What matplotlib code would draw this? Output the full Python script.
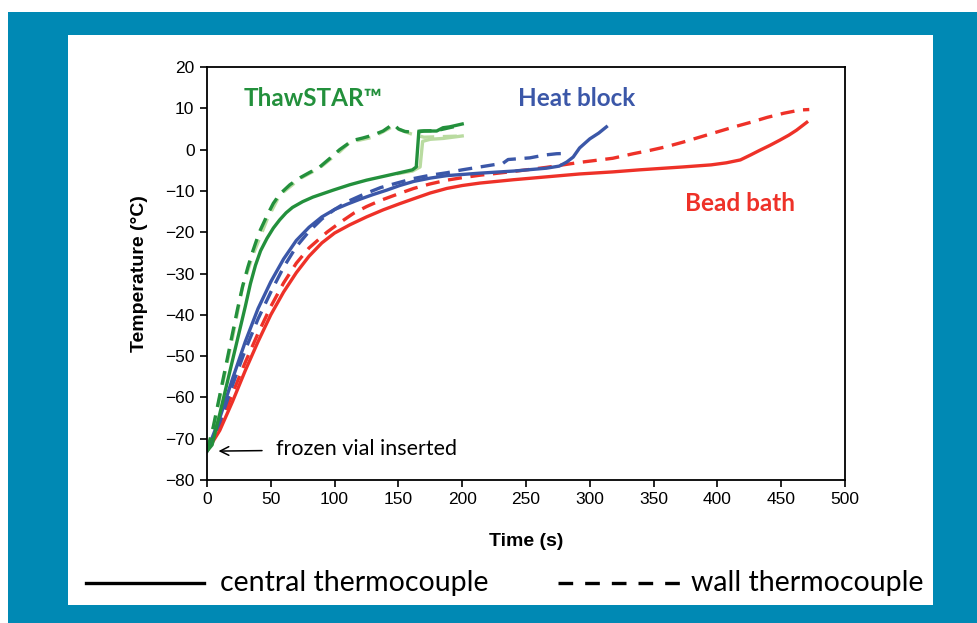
import matplotlib
matplotlib.use("Agg")
import matplotlib.pyplot as plt
from matplotlib.patches import Rectangle
from matplotlib.lines import Line2D

# -----------------------------
# Data
# -----------------------------
# ThawSTAR - central (dark green)
thaw_c_t = [0, 4, 10, 15, 20, 25, 30, 34, 38, 42, 47, 52, 57, 62, 67, 75, 83, 99, 112, 125, 138, 151, 161, 164,
            166, 170, 180, 185, 190, 200]
thaw_c_T = [-73, -71.5, -64, -57.5, -51, -44.5, -38, -32.5, -28, -24.5, -21.5, -19, -17, -15.3, -14, -12.6, -11.5,
            -9.8, -8.5, -7.4, -6.5, -5.6, -4.9, -4.2, 4.3, 4.5, 4.5, 5.3, 5.5, 6.2]
# ThawSTAR - wall (dark green)
thaw_w_t = [0, 5, 10, 15, 20, 24, 28, 32, 36, 41, 47, 52, 57, 65, 73, 80, 88, 96, 104, 114, 122, 130, 138, 146,
            150, 155, 161, 167, 180, 190, 200]
thaw_w_T = [-73, -67, -59.5, -52, -44.5, -38.5, -33, -28.5, -24.5, -20, -16, -13, -10.8, -8.5, -6.8, -5.6, -4.3,
            -2.2, 0, 2.2, 2.8, 3.5, 4.5, 6.2, 5.0, 4.4, 4.2, 4.5, 4.6, 5.3, 6]
# ThawSTAR replicate (light green)
thaw2_c_t = [150, 161, 167, 169, 175, 185, 200]
thaw2_c_T = [-5.8, -5.2, -4.2, 2.0, 2.5, 2.7, 3.3]
thaw2_w_t = [0, 5, 10, 20, 28, 36, 47, 57, 73, 88, 104, 112, 130, 145, 160, 170, 200]
thaw2_w_T = [-73, -67.5, -60, -45.5, -33, -25.5, -17, -11, -7, -4.5, -0.5, 1.8, 3, 5.5, 3.8, 3, 3.3]

# Heat block
heat_c_t = [0, 10, 20, 30, 40, 50, 60, 70, 80, 90, 100, 110, 120, 130, 141, 151, 162, 175, 188, 214, 240, 266,
            276, 282, 287, 292, 300, 307, 313]
heat_c_T = [-73, -65, -55.5, -46.5, -38.5, -32, -26.5, -22, -18.8, -16.3, -14.5, -13.2, -12, -10.9, -9.8, -8.7,
            -7.7, -6.9, -6.3, -5.7, -5.2, -4.5, -4, -3, -1.8, 0.4, 2.6, 4, 5.5]
heat_w_t = [0, 10, 20, 30, 40, 50, 60, 70, 80, 90, 100, 110, 123, 136, 150, 162, 175, 188, 200, 214, 232, 236,
            253, 265, 274, 284]
heat_w_T = [-73, -66, -57, -48.5, -41, -34.5, -28.5, -23.5, -19.8, -16.8, -14.5, -12.6, -10.8, -9.2, -8, -7,
            -6.2, -5.6, -4.9, -4.2, -3.3, -2.4, -2.0, -1.3, -1.0, -0.9]

# Bead bath
bead_c_t = [0, 10, 20, 30, 40, 50, 60, 70, 80, 90, 100, 112, 125, 138, 151, 162, 175, 188, 200, 214, 240, 266,
            292, 318, 339, 373, 395, 407, 418, 426, 433, 441, 449, 456, 462, 470]
bead_c_T = [-73, -68, -61, -53.5, -46.5, -40, -34.5, -29.8, -25.8, -22.6, -20.2, -18.2, -16.3, -14.6, -13.1,
            -11.9, -10.5, -9.4, -8.7, -8.1, -7.3, -6.6, -5.9, -5.4, -4.9, -4.2, -3.7, -3.2, -2.5, -1.3, -0.2,
            1.0, 2.3, 3.5, 4.7, 6.6]
bead_w_t = [0, 10, 20, 30, 40, 50, 60, 70, 80, 94, 105, 115, 125, 136, 151, 162, 175, 188, 200, 214, 240, 266,
            292, 318, 334, 347, 360, 373, 386, 399, 412, 426, 439, 452, 465, 472]
bead_w_T = [-73, -67, -59, -51.5, -44.5, -38, -32.3, -27.5, -23.8, -20, -17.5, -15.4, -13.8, -12.3, -10.6, -9.4,
            -8.3, -7.4, -6.8, -6.2, -5.3, -4.3, -3.1, -2.1, -1, -0.2, 0.7, 1.8, 3, 4.2, 5.4, 6.6, 7.8, 8.8,
            9.6, 9.7]

x_ticks = [0, 50, 100, 150, 200, 250, 300, 350, 400, 450, 500]
y_ticks = [-80, -70, -60, -50, -40, -30, -20, -10, 0, 10, 20]

# -----------------------------
# Style
# -----------------------------
GREEN = "#23903c"
LIGHT_GREEN = "#b9dba0"
BLUE = "#3b57a8"
RED = "#ee3128"
FRAME = "#0089b4"
LW = 2.4
DASH = (4.2, 2.6)

fig = plt.figure(figsize=(9.77, 6.23), dpi=100)
fig.patch.set_facecolor("white")

# blue frame and white panel
fig.add_artist(Rectangle((8 / 977, 0), 1, 1 - 12 / 623, transform=fig.transFigure,
                         facecolor=FRAME, edgecolor="none", zorder=0))
fig.add_artist(Rectangle((68 / 977, 18 / 623), (933 - 68) / 977, (605 - 35) / 623,
                         transform=fig.transFigure, facecolor="white", edgecolor="none", zorder=0.5))

ax = fig.add_axes([207 / 977, 1 - 480 / 623, (845 - 207) / 977, (480 - 67) / 623])
ax.set_facecolor("white")
ax.set_zorder(2)

# light replicate lines first
ax.plot(thaw2_w_t, thaw2_w_T, color=LIGHT_GREEN, lw=LW, dashes=DASH)
ax.plot(thaw2_c_t, thaw2_c_T, color=LIGHT_GREEN, lw=LW)

ax.plot(bead_w_t, bead_w_T, color=RED, lw=LW, dashes=DASH)
ax.plot(bead_c_t, bead_c_T, color=RED, lw=LW)
ax.plot(heat_w_t, heat_w_T, color=BLUE, lw=LW, dashes=DASH)
ax.plot(heat_c_t, heat_c_T, color=BLUE, lw=LW)
ax.plot(thaw_w_t, thaw_w_T, color=GREEN, lw=LW, dashes=DASH)
ax.plot(thaw_c_t, thaw_c_T, color=GREEN, lw=LW)

ax.set_xlim(0, 500)
ax.set_ylim(-80, 20)
ax.set_xticks(x_ticks)
ax.set_yticks(y_ticks)
ax.tick_params(direction="out", length=5, width=1.2, labelsize=12.5, pad=4)
for lab in ax.get_xticklabels() + ax.get_yticklabels():
    lab.set_family("Liberation Sans")
for sp in ax.spines.values():
    sp.set_linewidth(1.3)
    sp.set_color("black")

ax.set_xlabel("Time (s)", family="Liberation Sans", fontweight="bold", fontsize=14, labelpad=18)
ax.set_ylabel("Temperature (°C)", family="Liberation Sans", fontweight="bold", fontsize=14, labelpad=12)

# method labels
ax.text(83, 12.3, "ThawSTAR™", color=GREEN, fontsize=17.5, fontweight="bold",
        family="Lato", ha="center", va="center")
ax.text(290, 12.3, "Heat block", color=BLUE, fontsize=17.5, fontweight="bold",
        family="Lato", ha="center", va="center")
ax.text(418, -13, "Bead bath", color=RED, fontsize=17.5, fontweight="bold",
        family="Lato", ha="center", va="center")

ax.annotate("frozen vial inserted", xy=(9, -73), xytext=(54, -72.6),
            fontsize=15.5, family="Lato", ha="left", va="center",
            arrowprops=dict(arrowstyle="->", color="black", lw=1.1, shrinkA=8, shrinkB=0))

# bottom legend (line keys + labels in figure coords)
ly = 1 - 583 / 623
fig.add_artist(Line2D([86 / 977, 204 / 977], [ly, ly], transform=fig.transFigure,
                      color="black", lw=2.4, zorder=3))
fig.add_artist(Line2D([558 / 977, 682 / 977], [ly, ly], transform=fig.transFigure,
                      color="black", lw=2.4, dashes=(4.4, 3.6), zorder=3))
fig.text(220 / 977, ly, "central thermocouple", fontsize=20.5, family="Lato",
         ha="left", va="center", zorder=3)
fig.text(691 / 977, ly, "wall thermocouple", fontsize=20.5, family="Lato",
         ha="left", va="center", zorder=3)

fig.savefig("out.png", dpi=100)
